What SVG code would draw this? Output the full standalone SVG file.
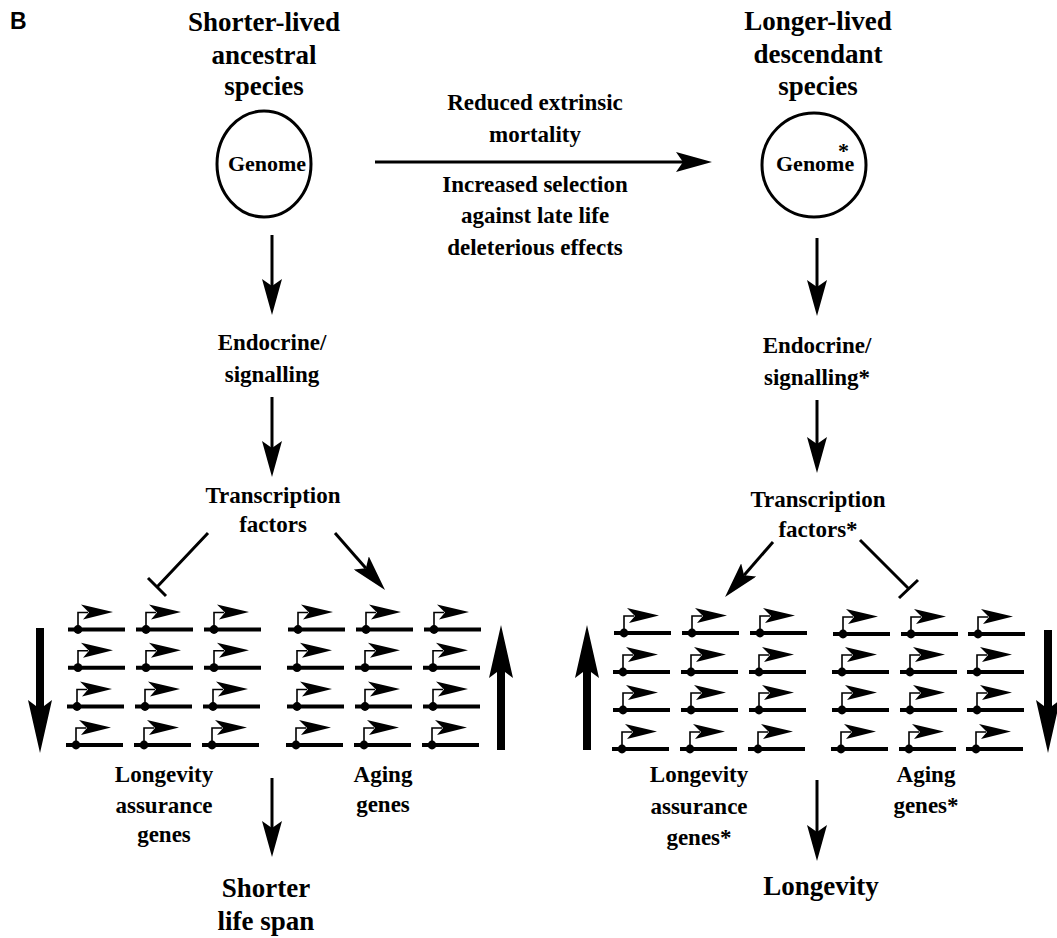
<svg xmlns="http://www.w3.org/2000/svg" xmlns:xlink="http://www.w3.org/1999/xlink" width="1057" height="938" viewBox="0 0 1057 938">
<style>
.t{font-family:"Liberation Serif","Times New Roman",serif;font-weight:bold;fill:#000;text-anchor:middle}
.big{font-size:27px}
.lab{font-size:23px}
.gen{font-size:22px}
.ln{stroke:#000;stroke-width:3;fill:none}
.thin{stroke:#000;stroke-width:1.6;fill:none}
.panel{font-family:"Liberation Sans",Arial,sans-serif;font-weight:bold;font-size:23px;fill:#000}
</style>
<defs>
<marker id="ah" markerUnits="userSpaceOnUse" viewBox="0 0 36 20" refX="7" refY="10" markerWidth="36" markerHeight="20" orient="auto">
<path d="M0,0 L36,10 L0,20 L7,10 z" fill="#000"/>
</marker>
<g id="gene">
<path d="M0,0 H57" stroke="#000" stroke-width="4"/>
<path d="M10,0 V-17 H20" class="thin"/>
<circle cx="10" cy="0" r="4.4" fill="#000"/>
<polygon points="13,-25 45,-17.5 15,-10 21,-17" fill="#000"/>
</g>
</defs>
<rect width="1057" height="938" fill="#fff"/>
<text class="panel" x="10" y="29">B</text>

<g id="ancestral-title">
<text class="t big" x="264" y="31">Shorter-lived</text>
<text class="t big" x="264" y="64">ancestral</text>
<text class="t big" x="264" y="95">species</text>
</g>
<g id="descendant-title">
<text class="t big" x="818" y="30">Longer-lived</text>
<text class="t big" x="818" y="63">descendant</text>
<text class="t big" x="818" y="95">species</text>
</g>
<g id="genome-left">
<ellipse cx="264" cy="164" rx="47" ry="53" class="ln"/>
<text class="t gen" x="267" y="171">Genome</text>
</g>
<g id="genome-right">
<circle cx="814" cy="165" r="52" class="ln"/>
<text class="t gen" x="776" y="171" style="text-anchor:start">Genome<tspan x="838" dy="-13">*</tspan></text>
</g>
<g id="transition-label">
<text class="t lab" x="535" y="110">Reduced extrinsic</text>
<text class="t lab" x="535" y="142">mortality</text>
<text class="t lab" x="535" y="192">Increased selection</text>
<text class="t lab" x="535" y="223">against late life</text>
<text class="t lab" x="535" y="255">deleterious effects</text>
</g>
<g id="endocrine-left">
<text class="t lab" x="272" y="350">Endocrine/</text>
<text class="t lab" x="272" y="382">signalling</text>
</g>
<g id="endocrine-right">
<text class="t lab" x="817" y="353">Endocrine/</text>
<text class="t lab" x="817" y="385">signalling*</text>
</g>
<g id="tf-left">
<text class="t lab" x="273" y="503">Transcription</text>
<text class="t lab" x="273" y="532">factors</text>
</g>
<g id="tf-right">
<text class="t lab" x="818" y="507">Transcription</text>
<text class="t lab" x="818" y="537">factors*</text>
</g>

<g id="genes-left-longevity">
<use xlink:href="#gene" x="68" y="629.5"/><use xlink:href="#gene" x="136" y="629.5"/><use xlink:href="#gene" x="204" y="629.5"/>
<use xlink:href="#gene" x="68" y="667.7"/><use xlink:href="#gene" x="136" y="667.7"/><use xlink:href="#gene" x="204" y="667.7"/>
<use xlink:href="#gene" x="67" y="706.5"/><use xlink:href="#gene" x="135" y="706.5"/><use xlink:href="#gene" x="203" y="706.5"/>
<use xlink:href="#gene" x="66" y="745"/><use xlink:href="#gene" x="134" y="745"/><use xlink:href="#gene" x="202" y="745"/>
<text class="t lab" x="164" y="782">Longevity</text>
<text class="t lab" x="164" y="813">assurance</text>
<text class="t lab" x="164" y="842">genes</text>
</g>
<g id="genes-left-aging">
<use xlink:href="#gene" x="288" y="629.5"/><use xlink:href="#gene" x="356" y="629.5"/><use xlink:href="#gene" x="424" y="629.5"/>
<use xlink:href="#gene" x="287" y="667.7"/><use xlink:href="#gene" x="355" y="667.7"/><use xlink:href="#gene" x="423" y="667.7"/>
<use xlink:href="#gene" x="287" y="706.5"/><use xlink:href="#gene" x="355" y="706.5"/><use xlink:href="#gene" x="423" y="706.5"/>
<use xlink:href="#gene" x="286" y="745"/><use xlink:href="#gene" x="354" y="745"/><use xlink:href="#gene" x="422" y="745"/>
<text class="t lab" x="383" y="782">Aging</text>
<text class="t lab" x="383" y="812">genes</text>
</g>
<g id="genes-right-longevity">
<use xlink:href="#gene" x="614" y="633"/><use xlink:href="#gene" x="682" y="633"/><use xlink:href="#gene" x="750" y="633"/>
<use xlink:href="#gene" x="613" y="672"/><use xlink:href="#gene" x="681" y="672"/><use xlink:href="#gene" x="749" y="672"/>
<use xlink:href="#gene" x="613" y="710"/><use xlink:href="#gene" x="681" y="710"/><use xlink:href="#gene" x="749" y="710"/>
<use xlink:href="#gene" x="612" y="749"/><use xlink:href="#gene" x="680" y="749"/><use xlink:href="#gene" x="748" y="749"/>
<text class="t lab" x="699" y="782">Longevity</text>
<text class="t lab" x="699" y="814">assurance</text>
<text class="t lab" x="699" y="845">genes*</text>
</g>
<g id="genes-right-aging">
<use xlink:href="#gene" x="833" y="634"/><use xlink:href="#gene" x="901" y="634"/><use xlink:href="#gene" x="968" y="634"/>
<use xlink:href="#gene" x="832" y="672"/><use xlink:href="#gene" x="900" y="672"/><use xlink:href="#gene" x="967" y="672"/>
<use xlink:href="#gene" x="832" y="710"/><use xlink:href="#gene" x="900" y="710"/><use xlink:href="#gene" x="967" y="710"/>
<use xlink:href="#gene" x="831" y="749"/><use xlink:href="#gene" x="899" y="749"/><use xlink:href="#gene" x="966" y="749"/>
<text class="t lab" x="926" y="782">Aging</text>
<text class="t lab" x="926" y="813">genes*</text>
</g>
<g id="outcome-left">
<text class="t big" x="266" y="897">Shorter</text>
<text class="t big" x="266" y="930">life span</text>
</g>
<g id="outcome-right">
<text class="t big" x="821" y="895">Longevity</text>
</g>

<g id="connectors">
<path class="ln" d="M375,162 H683" marker-end="url(#ah)"/>
<path class="ln" d="M272,235 V286" marker-end="url(#ah)"/>
<path class="ln" d="M272,397 V448" marker-end="url(#ah)"/>
<path class="ln" d="M272,778 V828" marker-end="url(#ah)"/>
<path class="ln" d="M817,238 V287" marker-end="url(#ah)"/>
<path class="ln" d="M817,400 V444" marker-end="url(#ah)"/>
<path class="ln" d="M817,780 V832" marker-end="url(#ah)"/>
<path class="ln" d="M335,533 L365.9,568.2" marker-end="url(#ah)"/>
<path class="ln" d="M773,542 L744.1,575.2" marker-end="url(#ah)"/>
<path class="ln" d="M208,533 L157,587 M148,578 L166,596"/>
<path class="ln" d="M860,540 L909,589 M899,598 L918,580"/>
<polygon points="40,753 52,700 44,706 44,628 36,628 36,706 28,700" fill="#000"/>
<polygon points="501,625 513,678 505,672 505,750 497,750 497,672 489,678" fill="#000"/>
<polygon points="587,625 599,678 591,672 591,750 583,750 583,672 575,678" fill="#000"/>
<polygon points="1048,753 1060,700 1052,706 1052,630 1044,630 1044,706 1036,700" fill="#000"/>
</g>
</svg>
